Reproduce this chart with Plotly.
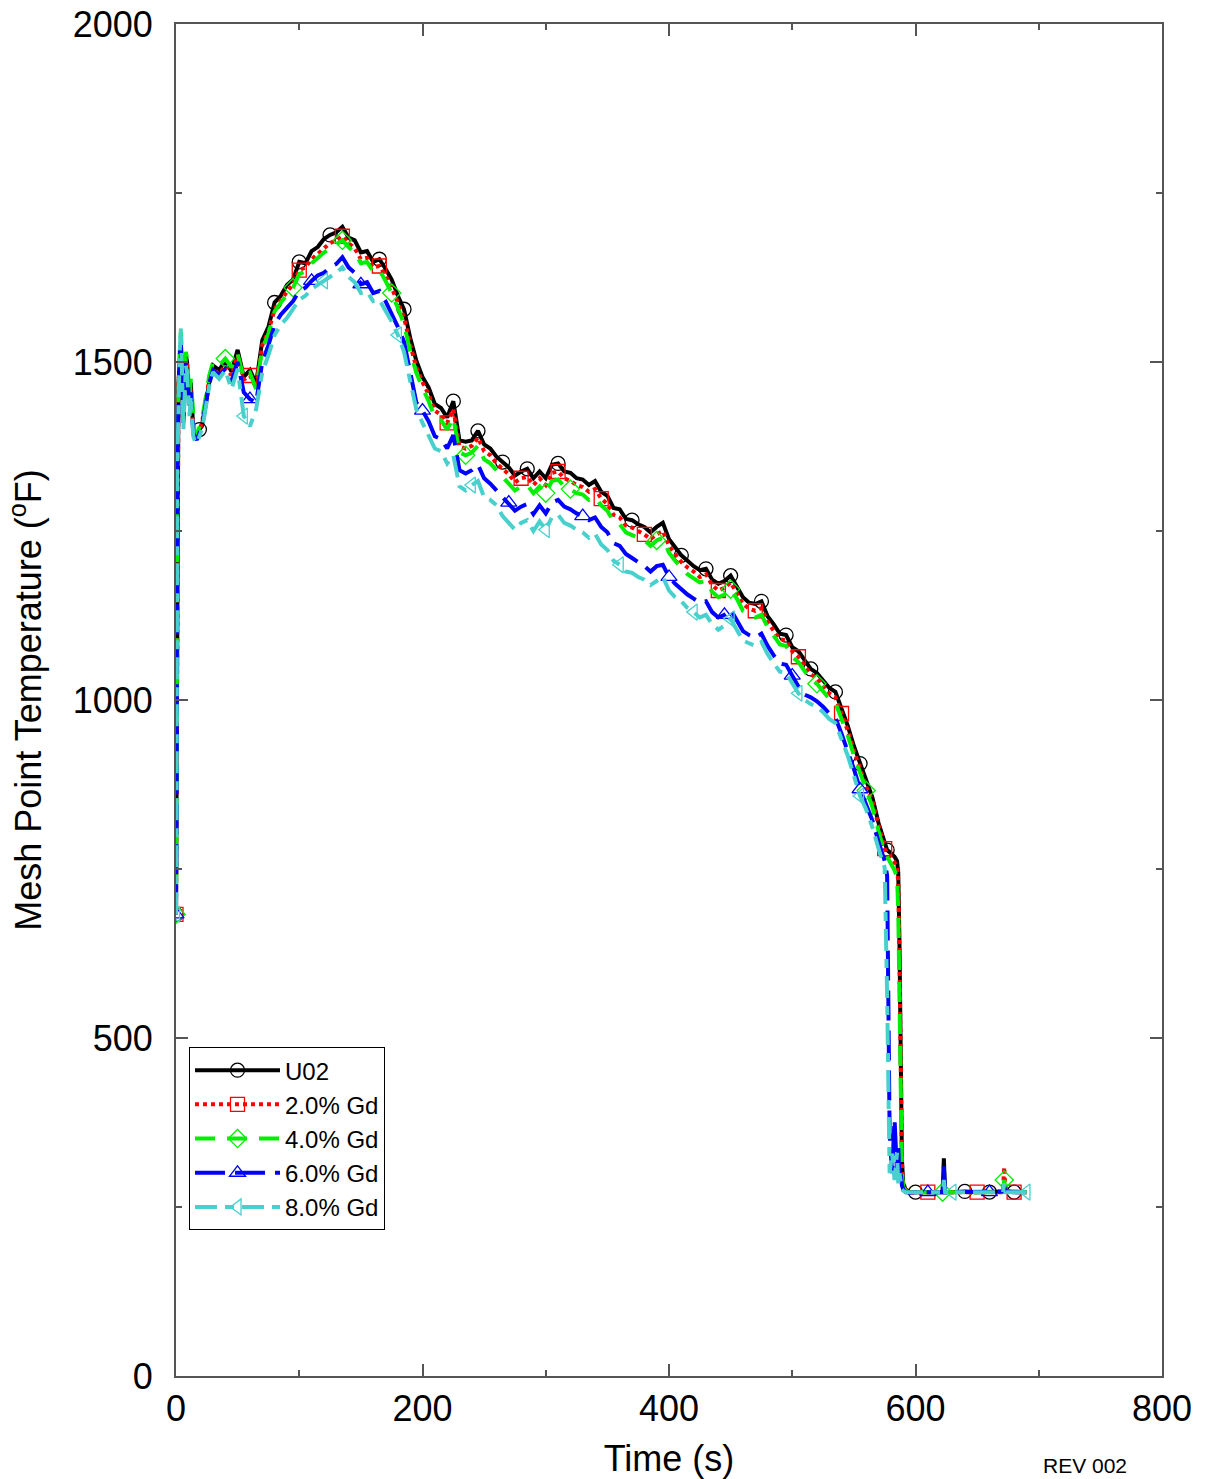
import plotly.graph_objects as go

# ---- time grid (s) ----
t_early = [0, 0.5, 1, 2, 3, 4, 5, 6, 7, 8, 9, 10, 11, 12, 13, 14, 15, 17, 19, 21, 23, 25, 27, 30]
t_mid = [35, 40, 45, 50, 55, 60, 65, 70, 75, 80,
         85, 90, 95, 100, 105, 110, 115, 120, 125, 130,
         135, 140, 145, 150, 155, 160, 165, 170, 175, 180,
         185, 190, 195, 200, 205, 210, 215, 220, 225, 230,
         235, 240, 245, 250, 255, 260, 265, 270, 275, 280,
         285, 290, 295, 300, 305, 310, 315, 320, 325, 330,
         335, 340, 345, 350, 355, 360, 365, 370, 375, 380,
         385, 390, 395, 400, 405, 410, 415, 420, 425, 430,
         435, 440, 445, 450, 455, 460, 465, 470, 475, 480,
         485, 490, 495, 500, 505, 510, 515, 520, 525, 530,
         535, 540, 545, 550, 555, 560, 565, 570, 575]
t_tail = [577, 579, 581, 583, 585, 586, 587, 588, 589, 590, 592, 595, 600, 610, 620,
          622, 623, 624, 630, 640, 650, 660, 670, 671, 672, 673, 680, 690]
time_s = t_early + t_mid + t_tail

# ---- temperatures (F) ----
u02 = [683, 900, 1380, 1470, 1500, 1530, 1470, 1425, 1470, 1510, 1500, 1460, 1440, 1470, 1430, 1400, 1395, 1390, 1400, 1405, 1425, 1450, 1470, 1495,
       1488, 1502, 1486, 1518, 1478, 1488, 1468, 1532, 1552, 1588,
       1598, 1614, 1622, 1648, 1646, 1664, 1670, 1682, 1688, 1692,
       1700, 1684, 1680, 1662, 1664, 1648, 1652, 1638, 1622, 1598,
       1578, 1536, 1502, 1478, 1462, 1438, 1432, 1418, 1442, 1384,
       1382, 1384, 1398, 1378, 1372, 1360, 1352, 1344, 1332, 1338,
       1342, 1328, 1338, 1328, 1348, 1350, 1338, 1336, 1328, 1326,
       1318, 1324, 1308, 1302, 1284, 1282, 1268, 1266, 1260, 1256,
       1248, 1256, 1262, 1238, 1226, 1214, 1206, 1198, 1192, 1194,
       1178, 1172, 1176, 1184, 1168, 1152, 1144, 1142, 1146, 1124,
       1112, 1098, 1096, 1078, 1072, 1058, 1046, 1040, 1030, 1018,
       1012, 988, 962, 932, 906, 878, 856, 818, 786,
       778, 775, 772, 768, 762, 745, 640, 430, 320, 285, 276, 272, 272, 272, 273,
       272, 322, 272, 272, 273, 272, 272, 273, 274, 276, 273, 272, 272]
gd2 = [683, 880, 1370, 1465, 1505, 1520, 1460, 1420, 1465, 1505, 1495, 1455, 1435, 1460, 1425, 1398, 1392, 1388, 1398, 1410, 1430, 1455, 1475, 1490,
       1482, 1495, 1480, 1510, 1474, 1480, 1462, 1525, 1545, 1578,
       1592, 1604, 1615, 1636, 1640, 1652, 1660, 1668, 1676, 1680,
       1686, 1676, 1668, 1652, 1654, 1640, 1642, 1628, 1610, 1588,
       1566, 1526, 1492, 1470, 1452, 1428, 1422, 1410, 1430, 1375,
       1372, 1376, 1388, 1368, 1362, 1350, 1342, 1334, 1322, 1328,
       1330, 1318, 1328, 1318, 1336, 1338, 1328, 1324, 1318, 1315,
       1308, 1312, 1298, 1290, 1274, 1270, 1258, 1255, 1250, 1245,
       1238, 1245, 1250, 1228, 1216, 1204, 1196, 1190, 1182, 1186,
       1170, 1162, 1166, 1174, 1158, 1142, 1135, 1132, 1136, 1116,
       1102, 1090, 1088, 1072, 1064, 1050, 1038, 1032, 1022, 1010,
       1004, 980, 955, 925, 898, 872, 850, 812, 780,
       774, 770, 766, 760, 752, 730, 620, 420, 315, 282, 275, 272, 271, 272, 272,
       272, 280, 272, 272, 272, 272, 272, 272, 276, 309, 274, 272, 272]
gd4 = [683, 870, 1360, 1480, 1520, 1545, 1475, 1430, 1480, 1515, 1505, 1465, 1445, 1475, 1440, 1405, 1398, 1392, 1405, 1415, 1435, 1460, 1480, 1500,
       1495, 1505, 1492, 1512, 1476, 1484, 1460, 1520, 1542, 1575,
       1588, 1600, 1610, 1630, 1634, 1646, 1654, 1662, 1668, 1674,
       1680, 1670, 1662, 1646, 1648, 1634, 1636, 1620, 1602, 1580,
       1556, 1516, 1484, 1462, 1442, 1418, 1414, 1400, 1418, 1366,
       1362, 1366, 1376, 1356, 1350, 1340, 1330, 1322, 1310, 1316,
       1318, 1306, 1316, 1306, 1324, 1326, 1316, 1312, 1306, 1304,
       1296, 1300, 1288, 1280, 1264, 1260, 1248, 1244, 1240, 1236,
       1228, 1236, 1240, 1218, 1206, 1196, 1186, 1180, 1174, 1176,
       1160, 1152, 1156, 1164, 1150, 1132, 1126, 1122, 1126, 1108,
       1094, 1082, 1080, 1064, 1056, 1042, 1030, 1024, 1014, 1002,
       996, 972, 948, 918, 892, 866, 842, 806, 774,
       768, 762, 756, 748, 738, 690, 560, 390, 300, 280, 274, 272, 272, 272, 272,
       272, 285, 272, 272, 272, 272, 272, 272, 274, 290, 273, 272, 272]
gd6 = [683, 850, 1350, 1460, 1510, 1525, 1460, 1410, 1455, 1500, 1490, 1450, 1430, 1455, 1420, 1395, 1390, 1385, 1395, 1405, 1425, 1448, 1468, 1488,
       1480, 1490, 1470, 1500, 1455, 1445, 1440, 1500, 1525, 1555,
       1570, 1580, 1590, 1605, 1610, 1620, 1628, 1632, 1640, 1645,
       1655, 1640, 1632, 1615, 1618, 1602, 1605, 1590, 1572, 1552,
       1530, 1485, 1440, 1428, 1412, 1390, 1386, 1372, 1392, 1340,
       1335, 1340, 1348, 1328, 1320, 1310, 1300, 1292, 1280, 1286,
       1290, 1275, 1288, 1276, 1292, 1296, 1286, 1282, 1276, 1272,
       1266, 1270, 1256, 1248, 1232, 1228, 1216, 1210, 1204, 1198,
       1190, 1198, 1200, 1182, 1172, 1164, 1156, 1150, 1144, 1146,
       1130, 1122, 1126, 1134, 1118, 1102, 1096, 1092, 1098, 1080,
       1066, 1054, 1052, 1036, 1020, 1008, 1004, 998, 990, 980,
       974, 950, 926, 898, 868, 846, 822, 790, 762,
       740, 360, 300, 380, 300, 340, 290, 300, 282, 276, 272, 271, 272, 272, 272,
       272, 310, 272, 272, 272, 272, 272, 272, 273, 280, 273, 272, 272]
gd8 = [683, 840, 1340, 1450, 1515, 1550, 1465, 1400, 1450, 1495, 1485, 1440, 1420, 1450, 1415, 1390, 1385, 1380, 1390, 1400, 1420, 1445, 1465, 1485,
       1475, 1488, 1460, 1490, 1420, 1405, 1430, 1485, 1510, 1540,
       1555, 1565, 1578, 1592, 1598, 1608, 1614, 1620, 1626, 1632,
       1640, 1626, 1618, 1602, 1604, 1590, 1592, 1576, 1560, 1540,
       1515, 1472, 1430, 1410, 1392, 1372, 1368, 1350, 1362, 1316,
       1310, 1318, 1324, 1300, 1296, 1288, 1272, 1262, 1252, 1262,
       1266, 1250, 1264, 1252, 1270, 1274, 1262, 1258, 1252, 1248,
       1240, 1246, 1230, 1222, 1206, 1200, 1190, 1188, 1182, 1178,
       1170, 1176, 1182, 1162, 1152, 1146, 1136, 1130, 1122, 1126,
       1112, 1104, 1110, 1120, 1104, 1088, 1084, 1080, 1086, 1068,
       1054, 1042, 1040, 1024, 1010, 1000, 994, 990, 982, 972,
       966, 942, 918, 888, 858, 838, 812, 780, 752,
       560, 300, 330, 290, 330, 285, 300, 280, 276, 274, 272, 272, 272, 272, 272,
       272, 290, 272, 272, 272, 272, 272, 272, 272, 285, 272, 272, 272]

series_names = ["U02", "2.0% Gd", "4.0% Gd", "6.0% Gd", "8.0% Gd"]
series_vals = [u02, gd2, gd4, gd6, gd8]

# times at which open markers are drawn on each curve
marker_times = [
    [0, 19, 80, 100, 125, 165, 185, 225, 245, 265, 285, 310, 370, 410, 430, 450, 475, 495, 515, 535, 555, 577, 600, 640, 660, 680],
    [0, 60, 100, 135, 165, 220, 280, 310, 345, 380, 440, 470, 505, 540, 575, 610, 650, 680],
    [0, 40, 95, 135, 175, 235, 300, 320, 390, 450, 520, 560, 622, 672],
    [0, 60, 110, 150, 200, 270, 330, 400, 445, 500, 555, 610, 660],
    [0, 55, 120, 180, 240, 300, 360, 420, 450, 505, 555, 630, 690],
]

colors = ["#000000", "#FF0000", "#00EE00", "#0000FF", "#48D1CC"]
dashes = ["solid", "dot", "20px,12px", "30px,10px", "22px,8px,9px,8px"]
symbols = ["circle-open", "square-open", "diamond-open", "triangle-up-open", "triangle-left-open"]

fig = go.Figure()
for name, vals, mt, c, d, s in zip(series_names, series_vals, marker_times, colors, dashes, symbols):
    fig.add_trace(go.Scatter(x=time_s, y=vals, mode="lines", showlegend=False,
                             line=dict(color=c, width=4, dash=d)))
    idx = [time_s.index(t) for t in mt]
    fig.add_trace(go.Scatter(x=[time_s[i] for i in idx], y=[vals[i] for i in idx], mode="markers",
                             showlegend=False,
                             marker=dict(symbol=s, size=14, color=c, line=dict(width=1.3, color=c))))
    fig.add_trace(go.Scatter(x=[None], y=[None], mode="lines+markers", name=name,
                             line=dict(color=c, width=4, dash=d),
                             marker=dict(symbol=s, size=14, color=c, line=dict(width=1.3, color=c))))

axis_common = dict(showline=True, linecolor="#555555", linewidth=2, mirror="ticks",
                   ticks="inside", ticklen=12, tickwidth=1.5, tickcolor="#555555",
                   showgrid=False, zeroline=False, automargin=False,
                   tickfont=dict(size=36, color="black"))

fig.update_xaxes(range=[0, 800], tickvals=[0, 200, 400, 600, 800],
                 minor=dict(ticks="inside", ticklen=6, dtick=100, tick0=0, tickcolor="#555555", tickwidth=1.5),
                 title=dict(text="Time (s)", font=dict(size=36, color="black"), standoff=22),
                 ticklabelstandoff=0, **axis_common)
fig.update_yaxes(range=[0, 2000], tickvals=[0, 500, 1000, 1500, 2000],
                 minor=dict(ticks="inside", ticklen=6, dtick=250, tick0=0, tickcolor="#555555", tickwidth=1.5),
                 title=dict(text="Mesh Point Temperature (<sup>o</sup>F)", font=dict(size=36, color="black"), standoff=20),
                 ticklabelstandoff=14, **axis_common)

fig.update_layout(
    width=1206, height=1479,
    margin=dict(l=176, r=44, t=24, b=103),
    plot_bgcolor="white", paper_bgcolor="white",
    font=dict(family="Liberation Sans, Arial, sans-serif", color="black"),
    legend=dict(x=0.0132, y=0.2433, xanchor="left", yanchor="top",
                bgcolor="white", bordercolor="black", borderwidth=1,
                font=dict(size=24, color="black"), itemwidth=85, tracegroupgap=0),
    annotations=[dict(text="REV 002", x=0.922, y=-0.0762, xref="paper", yref="paper",
                      xanchor="center", yanchor="bottom", showarrow=False,
                      font=dict(size=21, color="black"))],
)

fig.write_html("out.html", config={"displayModeBar": False},
               post_script="document.body.style.margin='0';document.body.style.overflow='hidden';")
